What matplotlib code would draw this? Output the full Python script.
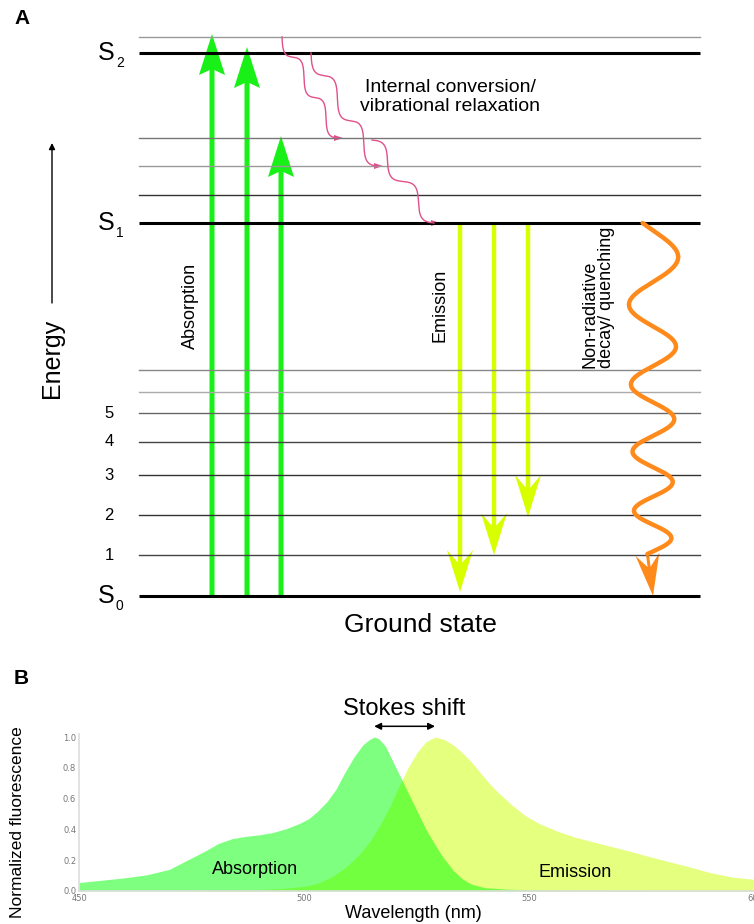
import numpy as np
import matplotlib
matplotlib.use('Agg')
import matplotlib.pyplot as plt

plt.rcParams['font.family'] = ['Liberation Sans', 'DejaVu Sans']

# --- Jablonski diagram: energies in arbitrary units, S0 = 0 ---
singlet_energy = [0, 373, 543]
singlet_names = ['0', '1', '2']
ground_vib = [41, 81, 121, 154, 183, 204, 226]
ground_vib_labels = ['1', '2', '3', '4', '5', '', '']
s1_vib = [401, 430, 458]
s2_vib = [559]

absorb_top = [562, 549, 460]      # where the absorption arrows end
emit_bottom = [4, 41, 79]         # where the emission arrows end
relax_from = [559, 543, 456]
relax_to = [458, 430, 373]

# --- spectra ---
abs_wl = [450, 455, 460, 465, 470, 474, 478, 481, 484, 487, 490, 493, 496, 499,
          501, 503, 505, 507, 509, 511, 513, 514.5, 515.5, 516.5, 518, 520,
          521.5, 523, 525, 527, 529, 531, 533, 535, 537, 540, 545, 550, 560,
          575, 600]
abs_val = [0.055, 0.07, 0.085, 0.105, 0.14, 0.2, 0.26, 0.31, 0.34, 0.355, 0.365,
           0.38, 0.405, 0.44, 0.47, 0.52, 0.58, 0.66, 0.77, 0.87, 0.95, 0.985,
           1.0, 0.99, 0.94, 0.82, 0.73, 0.64, 0.52, 0.4, 0.3, 0.21, 0.135,
           0.08, 0.045, 0.022, 0.012, 0.008, 0.005, 0.003, 0.002]
em_wl = [470, 480, 485, 490, 495, 500, 503, 506, 509, 512, 515, 517, 519, 521,
         523, 525, 527, 529, 531, 533, 535, 537, 539, 541, 543, 546, 549, 552,
         556, 560, 564, 568, 572, 577, 581, 585, 590, 595, 600]
em_val = [0.0, 0.003, 0.006, 0.01, 0.016, 0.03, 0.05, 0.09, 0.15, 0.23, 0.34,
          0.44, 0.55, 0.68, 0.8, 0.9, 0.97, 1.0, 0.985, 0.95, 0.9, 0.84, 0.77,
          0.7, 0.64, 0.56, 0.49, 0.44, 0.39, 0.35, 0.32, 0.29, 0.26, 0.22,
          0.19, 0.16, 0.12, 0.09, 0.075]

fig = plt.figure(figsize=(7.54, 9.24), dpi=100)

# panel A drawn in pixel-sized units so arrows keep their shape
ax = fig.add_axes([0, 0, 1, 1])
ax.set_xlim(0, 754)
ax.set_ylim(596 - 924, 596)
ax.axis('off')

x_left, x_right = 139, 700

for e in singlet_energy:
    ax.plot([x_left, x_right], [e, e], color='black', lw=2.2, solid_capstyle='butt')

thin_shades = {41: '#444444', 81: '#333333', 121: '#333333', 154: '#444444',
               183: '#666666', 204: '#aaaaaa', 226: '#888888', 401: '#333333',
               430: '#999999', 458: '#777777', 559: '#999999'}
for e in ground_vib + s1_vib + s2_vib:
    ax.plot([x_left, x_right], [e, e], color=thin_shades[e], lw=1.0)

for e, name in zip(singlet_energy, singlet_names):
    ax.text(115, e, 'S', fontsize=18, ha='right', va='center')
    ax.text(116, e - 10, name, fontsize=10, ha='left', va='center')

for e, lab in zip(ground_vib, ground_vib_labels):
    ax.text(109, e, lab, fontsize=12, ha='center', va='center')

# absorption arrows
absorb_x = [212, 247, 281]
for x, top in zip(absorb_x, absorb_top):
    ax.arrow(x, singlet_energy[0], 0, top - singlet_energy[0], width=5,
             head_width=26, head_length=41, length_includes_head=True,
             overhang=0.12, color='#18f018', lw=0)

# emission arrows
emit_x = [460, 494, 528]
for x, bottom in zip(emit_x, emit_bottom):
    ax.arrow(x, singlet_energy[1], 0, bottom - singlet_energy[1], width=4.5,
             head_width=26, head_length=42, length_includes_head=True,
             overhang=0.3, color='#d8ff00', lw=0)

# internal conversion / vibrational relaxation squiggles
pink = '#e0508a'
relax_x = [(282, 337), (311, 377), (372, 434)]
relax_turns = [2.5, 2.5, 2.0]
relax_phase = [0.0, 0.0, np.pi]
t = np.linspace(0, 1, 300)
for (x0, x1), e0, e1, n, ph in zip(relax_x, relax_from, relax_to,
                                   relax_turns, relax_phase):
    w = 0.85 * (np.sin(2 * np.pi * n * t + ph) - np.sin(ph)) / (2 * np.pi * n)
    xs = x0 + (x1 - x0) * (t - w)
    es = e0 + (e1 - e0) * (t + w)
    ax.plot(xs, es, color=pink, lw=1.0)
    ax.arrow(xs[-1] - 2, es[-1], 8, 0, width=0.3, head_width=6,
             head_length=9, length_includes_head=True, color=pink, lw=0)

# non-radiative decay: wiggle that tightens slightly as it falls
orange = '#ff8a1c'
tw = np.linspace(0, 1, 400)
phase = -0.41 + 18.0 * tw + 11.0 * tw ** 2
wave_e = singlet_energy[1] - (singlet_energy[1] - 42) * tw
wave_x = 653 + (26 - 8 * tw) * np.sin(phase)
ax.plot(wave_x, wave_e, color=orange, lw=3.2, solid_capstyle='round')
ax.arrow(wave_x[-1], wave_e[-1], 653 - wave_x[-1], 0 - wave_e[-1], width=3,
         head_width=24, head_length=42, length_includes_head=True,
         overhang=0.3, color=orange, lw=0)

# energy axis
ax.annotate('', xy=(52, 453), xytext=(52, 293),
            arrowprops=dict(arrowstyle='-|>', color='black', lw=1.0,
                            mutation_scale=9, shrinkA=0, shrinkB=0))
ax.text(52, 238, 'Energy', fontsize=18, rotation=90, ha='center', va='center')

ax.text(190, 290, 'Absorption', fontsize=13, rotation=90, ha='center', va='center')
ax.text(440, 291, 'Emission', fontsize=13, rotation=90, ha='center', va='center')
ax.text(598, 228, 'Non-radiative\ndecay/ quenching', fontsize=13, rotation=90,
        ha='center', va='bottom', multialignment='left', linespacing=1.0)
ax.text(450, 499, 'Internal conversion/\nvibrational relaxation', fontsize=14,
        ha='center', va='center', multialignment='center', linespacing=1.1)
ax.text(420, -29, 'Ground state', fontsize=19, ha='center', va='center')

ax.text(14, 578, 'A', fontsize=15, fontweight='bold', ha='left', va='center')
ax.text(14, -82, 'B', fontsize=15, fontweight='bold', ha='left', va='center')

# panel B: spectra
axb = fig.add_axes([79 / 754, 1 - 891 / 924, 676 / 754, 157 / 924])
axb.fill_between(em_wl, em_val, color=(0.8, 1.0, 0.0), alpha=0.5, lw=0)
axb.fill_between(abs_wl, abs_val, color=(0.0, 1.0, 0.0), alpha=0.5, lw=0)
axb.set_xlim(450, 600)
axb.set_ylim(0, 1.02)
axb.set_xticks([450, 500, 550, 600])
axb.set_yticks([0.0, 0.2, 0.4, 0.6, 0.8, 1.0])
axb.set_yticklabels(['0.0', '0.2', '0.4', '0.6', '0.8', '1.0'])
axb.tick_params(length=0, pad=2, labelsize=6, colors='#777777')
for lbl in axb.get_xticklabels() + axb.get_yticklabels():
    lbl.set_family('DejaVu Sans')
for side in ['top', 'right']:
    axb.spines[side].set_visible(False)
for side in ['left', 'bottom']:
    axb.spines[side].set_color('#dddddd')
    axb.spines[side].set_linewidth(1.2)
axb.patch.set_alpha(0)

abs_peak = abs_wl[int(np.argmax(abs_val))]
em_peak = em_wl[int(np.argmax(em_val))]
axb.annotate('', xy=(em_peak, 1.07), xytext=(abs_peak, 1.07),
             arrowprops=dict(arrowstyle='<|-|>', color='black', lw=1.1,
                             mutation_scale=10, shrinkA=0, shrinkB=0),
             annotation_clip=False)
fig.text(404 / 754, 1 - 709 / 924, 'Stokes shift', fontsize=17,
         ha='center', va='center')
axb.text(489, 0.14, 'Absorption', fontsize=13, ha='center', va='center')
axb.text(560, 0.12, 'Emission', fontsize=13, ha='center', va='center')
fig.text(18 / 754, 1 - 822 / 924, 'Normalized fluorescence', fontsize=12.5,
         rotation=90, ha='center', va='center')
fig.text(413 / 754, 1 - 913 / 924, 'Wavelength (nm)', fontsize=13,
         ha='center', va='center')

fig.savefig('out.png', dpi=100)
